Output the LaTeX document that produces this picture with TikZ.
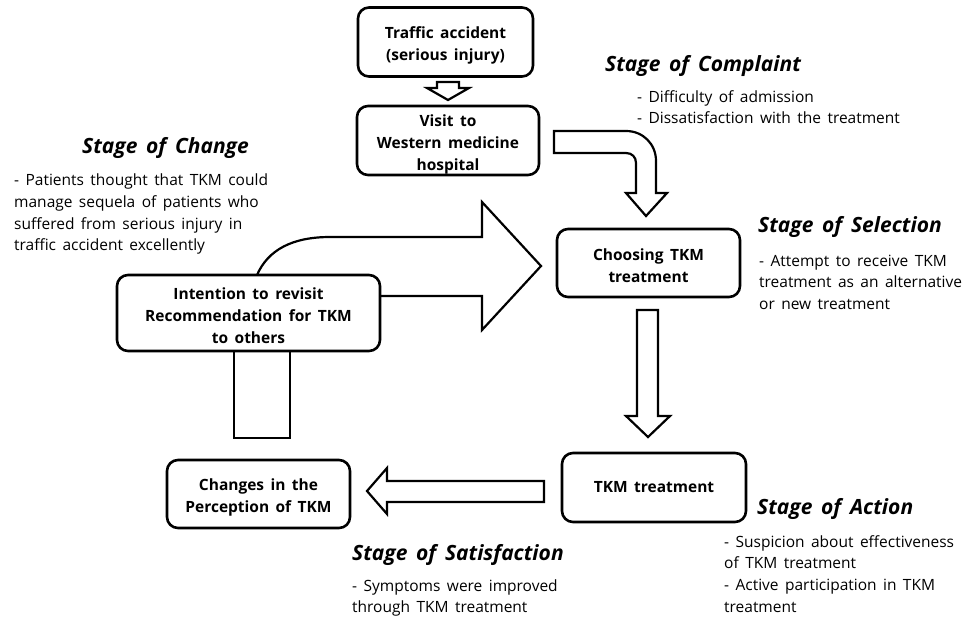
\documentclass[tikz,border=0pt]{standalone}
\usepackage{fontspec}
\setmainfont{Open Sans}[WordSpace=1.6]
\newcommand{\lowA}{\rule{0pt}{19pt}}
\newcommand{\lowB}{\rule{0pt}{16.5pt}}
\begin{document}
\begin{tikzpicture}[x=1pt,y=-1pt,
  box/.style={draw, line width=2.6pt, rounded corners=11pt, fill=white, align=center,
    font=\fontsize{15.5}{22}\selectfont\bfseries, inner sep=0pt},
  blk/.style={draw, line width=2.2pt, line join=miter, fill=white},
  ttl/.style={anchor=west, inner sep=0pt, font=\fontsize{21}{25}\selectfont\bfseries\itshape},
  body/.style={anchor=north west, inner sep=0pt, align=left, font=\fontsize{15.5}{21.6}\selectfont}]
\useasboundingbox (0,0) rectangle (969,619);

% block arrows
\draw[blk] (437,82) -- (459,82) -- (459,88) -- (469,88) -- (448,100) -- (427,88) -- (437,88) -- cycle;
\draw[blk] (554,131) -- (626,131) .. controls (643,131) and (656,144) .. (656,161)
  -- (656,193) -- (667,193) -- (646,216) -- (626,193) -- (636,193) -- (636,163)
  .. controls (636,157) and (632,153) .. (626,153) -- (554,153) -- cycle;
\draw[blk] (257,275) .. controls (268,250) and (292,237) .. (330,237) -- (482,237) -- (482,202)
  -- (541,266) -- (482,330) -- (482,296) -- (380,296);
\draw[blk] (637,310) -- (658,310) -- (658,416) -- (670,416) -- (648,437) -- (626,416) -- (637,416) -- cycle;
\draw[blk] (544,481) -- (387,481) -- (387,468) -- (367,491) -- (387,514) -- (387,502) -- (544,502) -- cycle;
\draw[blk, fill=none] (234,351) -- (234,438) -- (290,438) -- (290,351);

% boxes
\node[box, minimum width=175pt, minimum height=69pt] (acc) at (445.5,42) {\lowA Traffic accident\\(serious injury)};
\node[box, minimum width=182pt, minimum height=69pt] (visit) at (448,140.5) {\lowA Visit to\\Western medicine\\hospital};
\node[box, minimum width=183pt, minimum height=68pt] (choose) at (648.5,263) {\lowB Choosing TKM\\treatment};
\node[box, minimum width=184pt, minimum height=69pt] (tkm) at (654,487.5) {TKM treatment};
\node[box, minimum width=183pt, minimum height=68pt] (chg) at (258.5,494) {\lowA Changes in the\\Perception of TKM};
\node[box, minimum width=263pt, minimum height=76pt] (intent) at (248.5,313) {\lowB Intention to revisit\\Recommendation for TKM\\to others};

% titles
\node[ttl] (tcomp) at (605,66) {Stage of Complaint};
\node[ttl] (tchg) at (82,148) {Stage of Change};
\node[ttl] (tsel) at (758,227) {Stage of Selection};
\node[ttl] (tact) at (757,509) {Stage of Action};
\node[ttl] (tsat) at (352,555) {Stage of Satisfaction};

% bodies
\node[body] (bcomp) at (637,87) {\strut- Difficulty of admission\\- Dissatisfaction with the treatment};
\node[body] (bchg) at (14,170.6) {\strut- Patients thought that TKM could\\manage sequela of patients who\\suffered from serious injury in\\traffic accident excellently};
\node[body] (bsel) at (759,251) {\strut- Attempt to receive TKM\\treatment as an alternative\\or new treatment};
\node[body] (bact) at (724,532) {\strut- Suspicion about effectiveness\\of TKM treatment\\- Active participation in TKM\\treatment};
\node[body] (bsat) at (352,576) {\strut- Symptoms were improved\\through TKM treatment};
\end{tikzpicture}
\end{document}
